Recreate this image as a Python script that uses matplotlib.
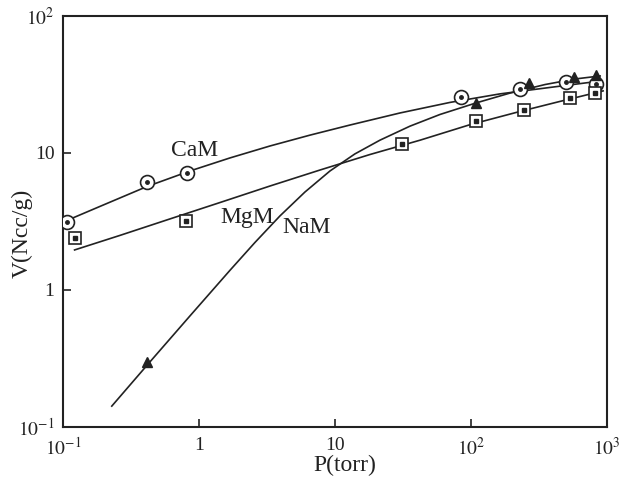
import matplotlib
matplotlib.use("Agg")
import matplotlib.pyplot as plt
from matplotlib.ticker import FixedLocator, NullLocator

plt.rcParams['font.family'] = ['Liberation Serif', 'DejaVu Serif']
plt.rcParams['mathtext.fontset'] = 'stix'

# measured points
cam_p = [0.107, 0.415, 0.82, 84, 229, 500, 830]
cam_v = [3.13, 6.1, 7.15, 25.6, 29.3, 33.0, 32.0]
mgm_p = [0.122, 0.80, 31, 109, 245, 535, 817]
mgm_v = [2.4, 3.19, 11.6, 17.1, 20.6, 25.2, 27.4]
nam_p = [0.415, 109, 267, 570, 830]
nam_v = [0.298, 23.2, 32.4, 35.9, 37.0]

# hand drawn curves
cam_curve_p = [0.105, 0.187, 0.415, 0.859, 1.69, 3.33, 6.55, 12.9, 30.1, 70.1, 163, 381, 889]
cam_curve_v = [3.19, 4.07, 5.69, 7.39, 9.20, 11.25, 13.5, 16.0, 19.6, 23.4, 27.0, 30.1, 33.5]
mgm_curve_p = [0.122, 0.262, 0.612, 1.43, 3.33, 7.76, 18.1, 42.2, 98.4, 229, 451, 935]
mgm_curve_v = [1.96, 2.50, 3.30, 4.35, 5.74, 7.51, 9.75, 12.4, 16.1, 20.1, 23.8, 28.4]
nam_curve_p = [0.229, 0.436, 0.859, 1.69, 2.58, 3.94, 6.02, 9.19, 14.0, 21.4, 35.6, 59.1,
               109, 194, 350, 582, 889]
nam_curve_v = [0.142, 0.298, 0.646, 1.39, 2.22, 3.47, 5.19, 7.39, 9.84, 12.4, 15.7, 19.1,
               23.2, 27.4, 31.6, 34.7, 36.5]

x_ticks = [0.1, 1, 10, 100, 1000]
x_labels = [r'$10^{-1}$', '1', '10', r'$10^{2}$', r'$10^{3}$']
y_ticks = [0.1, 1, 10, 100]
y_labels = [r'$10^{-1}$', '1', '10', r'$10^{2}$']


def main():
    fig = plt.figure(figsize=(6.22, 4.79), dpi=100)
    ax = fig.add_axes([0.101, 0.1086, 0.875, 0.858])
    ax.set_xscale('log')
    ax.set_yscale('log')
    ax.set_xlim(0.1, 1000)
    ax.set_ylim(0.1, 100)

    ink = '#222222'
    for px, py in [(cam_curve_p, cam_curve_v), (mgm_curve_p, mgm_curve_v), (nam_curve_p, nam_curve_v)]:
        ax.plot(px, py, color=ink, lw=1.2, zorder=2)

    ax.plot(cam_p, cam_v, ls='none', marker='o', ms=10, mfc='white', mec=ink, mew=1.2, zorder=3)
    ax.plot(cam_p, cam_v, ls='none', marker='o', ms=2.5, color=ink, zorder=4)
    ax.plot(mgm_p, mgm_v, ls='none', marker='s', ms=9, mfc='white', mec=ink, mew=1.2, zorder=3)
    ax.plot(mgm_p, mgm_v, ls='none', marker='s', ms=2.5, color=ink, zorder=4)
    ax.plot(nam_p, nam_v, ls='none', marker='^', ms=7, mfc=ink, mec=ink, zorder=5)

    ax.text(0.935, 10.5, 'CaM', fontsize=17, ha='center', va='center', color=ink)
    ax.text(2.25, 3.36, 'MgM', fontsize=17, ha='center', va='center', color=ink)
    ax.text(6.22, 2.88, 'NaM', fontsize=17, ha='center', va='center', color=ink)

    ax.xaxis.set_major_locator(FixedLocator(x_ticks))
    ax.yaxis.set_major_locator(FixedLocator(y_ticks))
    ax.xaxis.set_minor_locator(NullLocator())
    ax.yaxis.set_minor_locator(NullLocator())
    ax.set_xticklabels(x_labels)
    ax.set_yticklabels(y_labels)
    ax.tick_params(direction='in', length=6, width=1.2, labelsize=14, colors=ink)
    ax.tick_params(axis='x', pad=7)
    ax.tick_params(axis='y', pad=6)

    for s in ax.spines.values():
        s.set_linewidth(1.5)
        s.set_color(ink)

    ax.set_xlabel('P(torr)', fontsize=17, color=ink)
    ax.set_ylabel('V(Ncc/g)', fontsize=17, color=ink)
    ax.xaxis.set_label_coords(0.518, -0.068)
    ax.yaxis.set_label_coords(-0.055, 0.47)

    fig.savefig('out.png', dpi=100)


if __name__ == '__main__':
    main()
